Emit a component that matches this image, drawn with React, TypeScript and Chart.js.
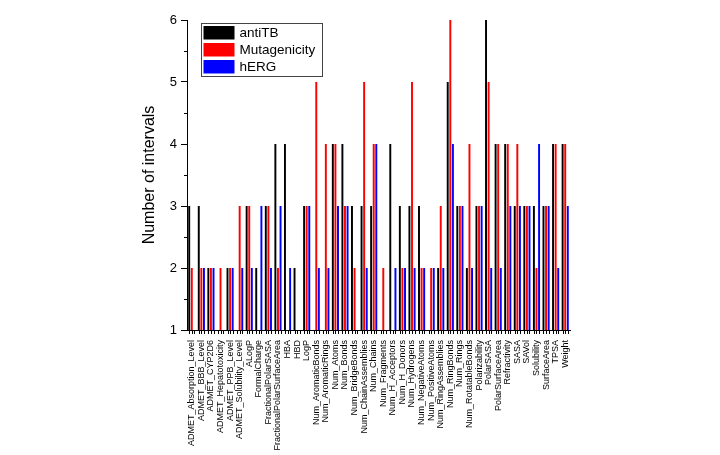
import React, { useEffect, useRef } from "react";
import { Chart, registerables } from "chart.js";

Chart.register(...registerables);

const categories = [
  "ADMET_Absorption_Level", "ADMET_BBB_Level", "ADMET_CYP2D6", "ADMET_Hepatotoxicity",
  "ADMET_PPB_Level", "ADMET_Solubility_Level", "ALogP", "FormalCharge",
  "FractionalPolarSASA", "FractionalPolarSurfaceArea", "HBA", "HBD", "LogP",
  "Num_AromaticBonds", "Num_AromaticRings", "Num_Atoms", "Num_Bonds",
  "Num_BridgeBonds", "Num_ChainAssemblies", "Num_Chains", "Num_Fragments",
  "Num_H_Acceptors", "Num_H_Donors", "Num_Hydrogens", "Num_NegativeAtoms",
  "Num_PositiveAtoms", "Num_RingAssemblies", "Num_RingBonds", "Num_Rings",
  "Num_RotatableBonds", "Polarizability", "PolarSASA", "PolarSurfaceArea",
  "Refractivity", "SASA", "SAVol", "Solubility", "SurfaceArea", "TPSA", "Weight",
];

const antiTB = [3, 3, 2, 1, 2, 1, 3, 2, 3, 4, 4, 2, 3, 1, 1, 4, 4, 3, 3, 3, 1, 4, 3, 3, 3, 1, 2, 5, 3, 2, 3, 6, 4, 4, 3, 3, 3, 3, 4, 4];
const mutagenicity = [2, 2, 2, 2, 2, 3, 3, 1, 3, 2, 1, 1, 3, 5, 4, 4, 3, 2, 5, 4, 2, 1, 2, 5, 2, 2, 3, 6, 3, 4, 3, 5, 4, 4, 4, 3, 2, 3, 4, 4];
const hERG = [1, 2, 2, 1, 2, 2, 2, 3, 2, 3, 2, 1, 3, 2, 2, 3, 3, 1, 2, 4, 1, 2, 2, 2, 2, 2, 2, 4, 3, 2, 3, 2, 2, 3, 3, 3, 4, 3, 2, 3];

const yTicks = [1, 2, 3, 4, 5, 6];
const seriesNames = ["antiTB", "Mutagenicity", "hERG"];
const seriesColors = ["#000000", "#ff0000", "#0000ff"];

const FONT = "'Liberation Sans', Arial, Helvetica, sans-serif";

const decorPlugin = {
  id: "decor",
  afterDraw(chart: any) {
    const ctx = chart.ctx;
    const ca = chart.chartArea;
    const ys = chart.scales.y;
    ctx.save();
    ctx.strokeStyle = "#000";
    ctx.lineWidth = 1;
    // minor y ticks
    for (let i = 0; i < yTicks.length - 1; i++) {
      const v = (yTicks[i] + yTicks[i + 1]) / 2;
      const py = Math.round(ys.getPixelForValue(v)) + 0.5;
      ctx.beginPath();
      ctx.moveTo(ca.left - 3, py);
      ctx.lineTo(ca.left, py);
      ctx.stroke();
    }
    // x ticks at each bar slot
    chart.data.datasets.forEach((_d: any, i: number) => {
      chart.getDatasetMeta(i).data.forEach((el: any) => {
        const px = Math.round(el.x) + 0.5;
        ctx.beginPath();
        ctx.moveTo(px, ca.bottom);
        ctx.lineTo(px, ca.bottom + 4);
        ctx.stroke();
      });
    });
    // legend
    const bx = ca.left + 14.5;
    const by = ca.top + 3.5;
    const bw = 121;
    const bh = 53;
    ctx.fillStyle = "#fff";
    ctx.fillRect(bx, by, bw, bh);
    ctx.strokeStyle = "#444";
    ctx.strokeRect(bx, by, bw, bh);
    ctx.font = `13.5px ${FONT}`;
    ctx.textBaseline = "middle";
    ctx.textAlign = "left";
    chart.data.datasets.forEach((d: any, i: number) => {
      const sy = by + 2.5 + i * 17;
      ctx.fillStyle = d.backgroundColor;
      ctx.fillRect(bx + 2, sy, 31, 13.5);
      ctx.fillStyle = "#000";
      ctx.fillText(d.label, bx + 38, sy + 7);
    });
    ctx.restore();
  },
};

export default function App() {
  const ref = useRef<HTMLCanvasElement | null>(null);
  useEffect(() => {
    if (!ref.current) return;
    const values = [antiTB, mutagenicity, hERG];
    const chart = new Chart(ref.current, {
      type: "bar",
      data: {
        labels: categories,
        datasets: seriesNames.map((name, i) => ({
          label: name,
          data: values[i],
          backgroundColor: seriesColors[i],
          borderWidth: 0,
          categoryPercentage: 0.81,
          barPercentage: 0.75,
        })),
      },
      options: {
        responsive: false,
        animation: false,
        events: [],
        layout: { padding: { left: 140, top: 20, right: 150, bottom: 0 } },
        plugins: { legend: { display: false }, tooltip: { enabled: false }, title: { display: false } },
        scales: {
          x: {
            type: "category",
            afterFit: (s: any) => { s.height = 125; },
            grid: { display: false, drawTicks: false, drawOnChartArea: false },
            border: { display: true, color: "#000", width: 1 },
            ticks: {
              autoSkip: false,
              minRotation: 90,
              maxRotation: 90,
              padding: 10,
              color: "#000",
              font: { family: FONT, size: 9 },
            },
          },
          y: {
            type: "linear",
            min: 1,
            max: 6,
            afterFit: (s: any) => { s.width = 47; },
            grid: { display: true, drawOnChartArea: false, drawTicks: true, tickLength: 6, color: "#000" },
            border: { display: true, color: "#000", width: 1 },
            ticks: {
              stepSize: 1,
              padding: 4,
              color: "#000",
              font: { family: FONT, size: 13 },
            },
            title: {
              display: true,
              text: "Number of intervals",
              color: "#000",
              padding: 0,
              font: { family: FONT, size: 16 },
            },
          },
        },
      },
      plugins: [decorPlugin],
    } as any);
    return () => chart.destroy();
  }, []);
  return (
    <div style={{ position: "fixed", left: 0, top: 0, width: 720, height: 455, background: "#fff" }}>
      <canvas ref={ref} width={720} height={455} style={{ width: 720, height: 455 }} />
    </div>
  );
}
